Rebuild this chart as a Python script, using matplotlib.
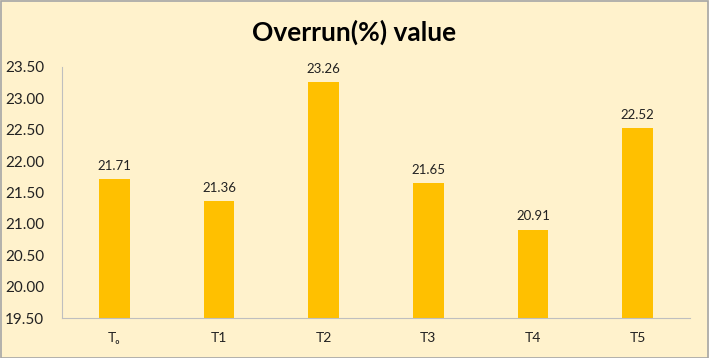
import matplotlib
matplotlib.use("Agg")
import matplotlib.pyplot as plt
from matplotlib.patches import Rectangle

categories = ["T\u2092", "T1", "T2", "T3", "T4", "T5"]
values = [21.71, 21.36, 23.26, 21.65, 20.91, 22.52]
yticks = [19.5, 20.0, 20.5, 21.0, 21.5, 22.0, 22.5, 23.0, 23.5]

plt.rcParams['font.family'] = ['Lato', 'DejaVu Sans']
bg = '#FFF2CC'
bar_color = '#FFC000'

fig = plt.figure(figsize=(7.09, 3.58), dpi=100, facecolor=bg)
fig.patches.append(Rectangle((0.001, 0.001), 0.997, 0.996, transform=fig.transFigure,
                             fill=False, edgecolor='#A6A6A6', linewidth=1.2))
ax = fig.add_axes([62/709, 1-318/358, (690-62)/709, (318-67)/358])
ax.set_facecolor(bg)
x = range(len(categories))
ax.bar(x, values, width=0.29, color=bar_color, bottom=0)
ax.set_ylim(19.5, 23.5)
ax.set_xlim(-0.5, len(categories)-0.5)
ax.set_yticks(yticks)
ax.set_yticklabels([f"{v:.2f}" for v in yticks], fontsize=11, color='#222222')
ax.set_xticks(list(x))
ax.set_xticklabels(categories, fontsize=10, color='#222222')
ax.tick_params(axis='both', length=0)
ax.tick_params(axis='y', pad=13)
ax.tick_params(axis='x', pad=10)
for s in ['top', 'right']:
    ax.spines[s].set_visible(False)
for s in ['left', 'bottom']:
    ax.spines[s].set_color('#BFBFBF')
    ax.spines[s].set_linewidth(0.8)
for xi, v in zip(x, values):
    ax.text(xi, v + 0.12, f"{v:.2f}", ha='center', va='bottom', fontsize=9.5, color='#222222')
fig.text(0.5, 1-32/358, "Overrun(%) value", ha='center', va='center', fontsize=19, fontweight='bold', color='black')
fig.savefig("out.png", dpi=100, facecolor=bg)
